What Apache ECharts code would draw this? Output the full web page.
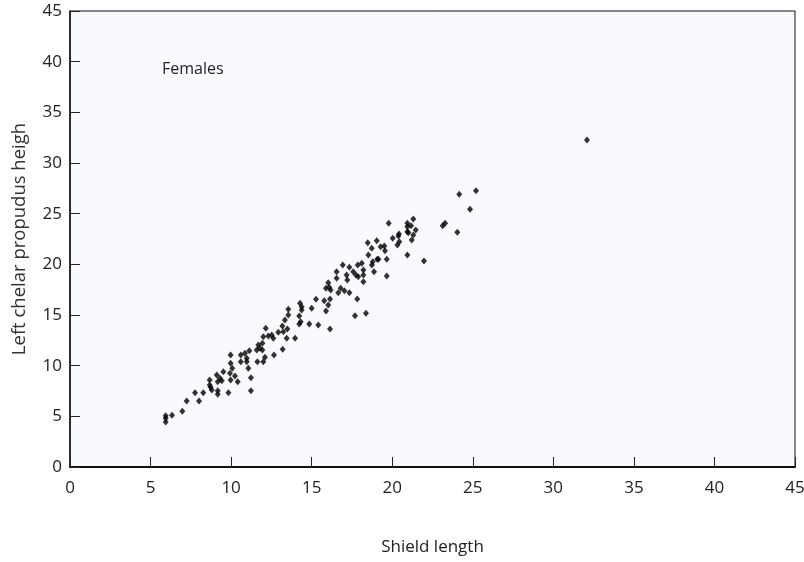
<!DOCTYPE html>
<html>
<head>
<meta charset="utf-8">
<script src="https://cdn.jsdelivr.net/npm/echarts@6/dist/echarts.min.js"></script>
<style>html,body{margin:0;padding:0;background:#fff}#c{width:804px;height:562px}</style>
</head>
<body>
<div id="c"></div>
<script>
var xTicks = [0, 5, 10, 15, 20, 25, 30, 35, 40, 45];
var yTicks = [0, 5, 10, 15, 20, 25, 30, 35, 40, 45];
var shieldLength = [
 5.94,5.94,5.94,6.33,6.97,7.24,7.76,8.01,8.27,8.67,8.67,8.73,8.80,9.17,9.17,9.83,9.11,9.31,9.17,9.42,9.52,9.93,10.24,9.97,10.41,11.23,11.23,
 10.07,9.97,9.97,10.60,10.60,10.86,10.97,10.97,11.07,11.13,11.59,11.69,11.79,11.94,11.94,11.63,12.00,12.10,12.15,12.00,12.31,12.52,12.62,12.66,12.93,13.18,13.24,13.34,13.49,13.20,13.45,13.97,13.55,13.55,14.28,14.38,14.23,14.32,14.23,14.85,15.00,15.41,
 14.38,15.27,15.78,15.89,16.03,16.14,15.89,16.03,16.09,16.18,16.65,16.80,17.03,17.34,16.55,16.55,16.93,17.17,17.21,17.34,17.58,17.75,17.86,18.11,18.21,18.21,18.21,17.89,17.83,17.69,18.37,16.14,
 18.48,18.52,18.73,18.79,18.87,19.04,19.07,19.14,19.28,19.51,19.55,19.66,19.66,20.03,20.38,20.32,20.44,20.94,21.00,
 18.74,19.78,20.42,20.94,20.94,20.94,21.17,21.31,21.31,21.46,21.21,21.97,23.13,23.28,24.04,24.16,24.83,25.20,32.09
];
var chelaHeight = [
 5.06,4.81,4.44,5.10,5.50,6.51,7.33,6.51,7.33,8.59,8.09,7.87,7.60,7.53,7.17,7.33,9.08,8.75,8.42,8.52,9.40,9.25,8.98,8.59,8.42,8.81,7.53,
 9.74,10.23,11.05,11.05,10.39,11.22,10.73,10.39,9.74,11.48,11.55,12.04,11.71,11.55,12.21,10.39,10.39,10.83,13.69,12.86,12.93,13.03,12.70,11.05,13.29,13.91,13.35,14.51,13.62,11.62,12.70,12.70,15.56,15.00,16.15,15.82,14.90,14.34,14.11,14.11,15.66,14.01,
 15.49,16.55,16.41,15.40,15.99,16.58,17.64,18.19,17.73,17.47,17.20,17.64,17.40,17.20,19.27,18.62,19.93,18.95,18.45,19.71,19.27,18.95,19.93,20.10,19.44,18.95,18.29,18.78,16.58,14.93,15.17,13.62,
 22.14,20.92,21.58,20.26,19.27,22.33,20.50,20.50,21.74,21.81,21.35,20.50,18.85,22.57,22.80,21.91,22.23,20.92,23.12,
 19.93,24.05,22.99,24.05,23.72,23.22,23.81,24.47,22.90,23.39,22.40,20.33,23.81,24.05,23.16,26.91,25.43,27.27,32.27
];
var points = shieldLength.map(function (x, i) { return [x, chelaHeight[i]]; });

var font = '"Open Sans", "Noto Sans", sans-serif';
var chart = echarts.init(document.getElementById('c'));
chart.setOption({
  animation: false,
  backgroundColor: '#ffffff',
  grid: {
    left: 70, right: 9, top: 11, bottom: 95,
    containLabel: false, outerBoundsMode: 'none',
    show: true, backgroundColor: '#f9fafd', borderColor: '#111', borderWidth: 1
  },
  xAxis: {
    type: 'value', min: xTicks[0], max: xTicks[xTicks.length - 1], interval: 5,
    name: 'Shield length', nameLocation: 'middle', nameGap: 72,
    nameTextStyle: { fontFamily: font, fontSize: 17, color: '#222' },
    axisLine: { show: true, onZero: false, lineStyle: { color: '#111', width: 2 } },
    axisTick: { show: true, inside: true, length: 10, lineStyle: { color: '#222', width: 1 } },
    axisLabel: { fontFamily: font, fontSize: 17, color: '#222', margin: 13 },
    splitLine: { show: false }
  },
  yAxis: {
    type: 'value', min: yTicks[0], max: yTicks[yTicks.length - 1], interval: 5,
    name: 'Left chelar propudus heigh', nameLocation: 'middle', nameGap: 41,
    nameTextStyle: { fontFamily: font, fontSize: 18.5, color: '#333' },
    axisLine: { show: true, onZero: false, lineStyle: { color: '#111', width: 1.5 } },
    axisTick: { show: true, inside: true, length: 10, lineStyle: { color: '#222', width: 1 } },
    axisLabel: { fontFamily: font, fontSize: 17, color: '#222', margin: 8 },
    splitLine: { show: false }
  },
  graphic: [{
    type: 'text', left: 162, top: 61,
    style: { text: 'Females', font: '16px ' + font, fill: '#222' }
  }],
  series: [{
    type: 'scatter',
    data: points,
    symbol: 'diamond',
    symbolSize: [6, 7],
    itemStyle: { color: '#000' }
  }]
});
</script>
</body>
</html>
